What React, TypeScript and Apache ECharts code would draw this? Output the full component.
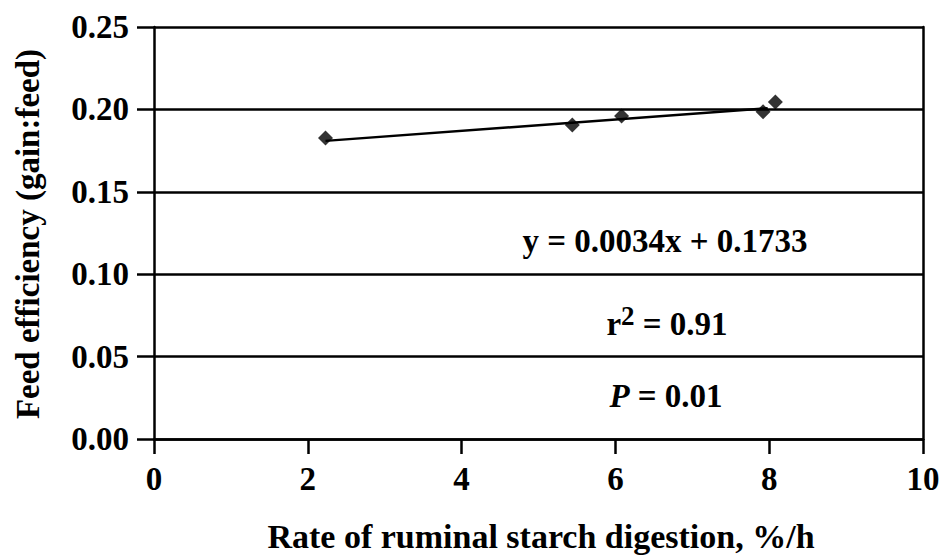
import React, { useEffect, useRef } from "react";
import * as echarts from "echarts";

const xTicks = [0, 2, 4, 6, 8, 10];
const yTickLabels = ["0.00", "0.05", "0.10", "0.15", "0.20", "0.25"];
const rateValues = [2.23, 5.44, 6.08, 7.92, 8.08];
const efficiencyValues = [0.1826, 0.1905, 0.196, 0.1985, 0.2045];
const trendX = [2.23, 7.98];
const trendY = [0.1809, 0.2007];

const xTitle = "Rate of ruminal starch digestion, %/h";
const yTitle = "Feed efficiency (gain:feed)";
const eqText = "y = 0.0034x + 0.1733";
const r2Value = "0.91";
const pValue = "0.01";

const FONT = '"Liberation Serif", "Times New Roman", serif';

export default function App() {
  const ref = useRef<HTMLDivElement>(null);
  useEffect(() => {
    if (!ref.current) return;
    const chart = echarts.init(ref.current, null, { renderer: "svg" });
    const black = "#000";
    const points = rateValues.map((x, i) => [x, efficiencyValues[i]]);
    const trend = trendX.map((x, i) => [x, trendY[i]]);
    chart.setOption({
      animation: false,
      backgroundColor: "#fff",
      grid: { left: 154, right: 20, top: 27, bottom: 116 },
      xAxis: {
        type: "value",
        min: xTicks[0],
        max: xTicks[xTicks.length - 1],
        interval: 2,
        axisLine: { show: true, onZero: false, lineStyle: { color: black, width: 2.5 } },
        axisTick: { show: true, inside: false, length: 15, lineStyle: { color: black, width: 2.5 } },
        axisLabel: {
          color: black,
          fontFamily: FONT,
          fontWeight: "bold",
          fontSize: 33,
          margin: 23,
        },
        splitLine: { show: false },
      },
      yAxis: [
        {
          type: "value",
          min: 0,
          max: 0.25,
          interval: 0.05,
          axisLine: { show: true, lineStyle: { color: black, width: 2.5 } },
          axisTick: { show: true, inside: false, length: 17, lineStyle: { color: black, width: 2.5 } },
          axisLabel: {
            color: black,
            fontFamily: FONT,
            fontWeight: "bold",
            fontSize: 33,
            margin: 25,
            formatter: (v: number) => yTickLabels[Math.round(v / 0.05)] ?? v.toFixed(2),
          },
          splitLine: { show: true, lineStyle: { color: black, width: 2.5 } },
        },
        {
          type: "value",
          position: "right",
          min: 0,
          max: 0.25,
          interval: 0.05,
          axisLine: { show: true, lineStyle: { color: black, width: 2.5 } },
          axisTick: { show: false },
          axisLabel: { show: false },
          splitLine: { show: false },
        },
      ],
      series: [
        {
          type: "line",
          data: trend,
          showSymbol: false,
          symbol: "none",
          lineStyle: { color: black, width: 2.5 },
          z: 3,
        },
        {
          type: "scatter",
          data: points,
          symbol: "diamond",
          symbolSize: [15, 15],
          itemStyle: { color: black },
          z: 4,
        },
      ],
      graphic: [
        {
          type: "text",
          x: 541,
          y: 536,
          style: {
            text: xTitle,
            fill: black,
            font: `bold 34px ${FONT}`,
            textAlign: "center",
            textVerticalAlign: "middle",
          },
        },
        {
          type: "text",
          x: 28,
          y: 234,
          rotation: Math.PI / 2,
          style: {
            text: yTitle,
            fill: black,
            font: `bold 33px ${FONT}`,
            textAlign: "center",
            textVerticalAlign: "middle",
          },
        },
        {
          type: "text",
          x: 665,
          y: 241,
          style: {
            text: eqText,
            fill: black,
            font: `bold 33px ${FONT}`,
            textAlign: "center",
            textVerticalAlign: "middle",
          },
        },
        {
          type: "text",
          x: 667,
          y: 321,
          style: {
            text: `{b|r}{s|2}{b| = ${r2Value}}`,
            fill: black,
            textAlign: "center",
            textVerticalAlign: "middle",
            rich: {
              b: { fontFamily: FONT, fontWeight: "bold", fontSize: 33, lineHeight: 38, fill: black, verticalAlign: "bottom" },
              s: { fontFamily: FONT, fontWeight: "bold", fontSize: 27, lineHeight: 27, fill: black, verticalAlign: "top" },
            },
          },
        },
        {
          type: "text",
          x: 666,
          y: 396,
          style: {
            text: `{i|P}{b| = ${pValue}}`,
            fill: black,
            textAlign: "center",
            textVerticalAlign: "middle",
            rich: {
              i: { fontFamily: FONT, fontStyle: "italic", fontWeight: "bold", fontSize: 33, fill: black },
              b: { fontFamily: FONT, fontWeight: "bold", fontSize: 33, fill: black },
            },
          },
        },
      ],
    });
    return () => chart.dispose();
  }, []);
  return (
    <div
      ref={ref}
      style={{ position: "fixed", left: 0, top: 0, width: 943, height: 555, background: "#fff" }}
    />
  );
}
